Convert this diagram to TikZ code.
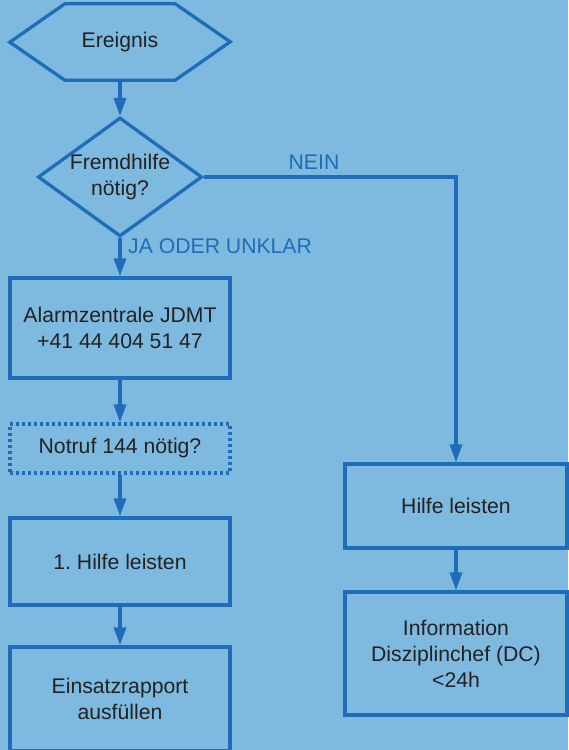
\documentclass[tikz,border=0pt]{standalone}
\usepackage{fontspec}
\setmainfont{Liberation Sans}
\usepackage{tikz}
\usetikzlibrary{calc}
\usetikzlibrary{arrows.meta}
\usetikzlibrary{shapes.geometric}
\frenchspacing
\definecolor{bgblue}{RGB}{126,186,224}
\definecolor{lineblue}{RGB}{31,108,185}
\definecolor{textgrey}{RGB}{35,33,34}
\tikzset{>={Triangle[length=18pt,width=12pt]}}
\tikzset{
  flow/.style={draw=lineblue, line width=3.3pt, text=textgrey, align=center, inner sep=0pt},
  flowbox/.style={flow, rectangle, minimum width=220pt},
  flowarrow/.style={->, draw=lineblue, line width=3.3pt},
  flowlabel/.style={text=lineblue, inner sep=0pt}
}

\begin{document}
\begin{tikzpicture}[x=1pt, y=-1pt, font=\fontsize{21.2}{26}\selectfont]
            % background
            \fill[bgblue] (0, 0) rectangle (568, 750);
            \useasboundingbox (0, 0) rectangle (568, 750);

            %Ereignis
            \node[inner sep=0pt, minimum width=110pt, minimum height=76pt, text=textgrey] (ev) at (120, 42) {Ereignis};
            \draw[lineblue, line width=3.3pt, line join=miter] (ev.north west) -- (ev.north east) -- ++(55, 38) -- (ev.south east) -- (ev.south west) -- ++(-55, -38) -- cycle;

            %Fremdhilfe
            \node[flow, diamond, aspect=1.4, minimum width=164pt, minimum height=119pt] (help) at (120, 177) {Fremdhilfe\\n\"otig?};

            %left column
            \node[flowbox, minimum height=100pt] (alarm) at (120, 328) {Alarmzentrale JDMT\\+41 44 404 51 47};
            \node[flowbox, minimum height=49pt, dash pattern=on 2.6pt off 3.4pt] (call) at (120, 448.5) {Notruf 144 n\"otig?};
            \node[flowbox, minimum height=87pt] (aid) at (120, 561.5) {1. Hilfe leisten};
            \node[flowbox, minimum height=104pt] (report) at (120, 699) {Einsatzrapport\\ausf\"ullen};

            %right column
            \node[flowbox, minimum width=222pt, minimum height=84pt] (hilfe) at (456, 506) {Hilfe leisten};
            \node[flowbox, minimum width=222pt, minimum height=123pt] (info) at (456, 653.5) {Information\\Disziplinchef (DC)\\<24h};

            % arrows
            \draw[flowarrow] (ev.south) -- (help.north);
            \draw[flowarrow] (help.south) -- (alarm.north);
            \draw[flowarrow] (alarm) -- (call);
            \draw[flowarrow] (call) -- (aid);
            \draw[flowarrow] (aid) -- (report);
            \draw[flowarrow] (hilfe) -- (info);
            \draw[flowarrow, line join=miter] (help.east) -| (hilfe.north);

            % labels
            \node[flowlabel, anchor=west] (yes) at (128, 246) {JA ODER UNKLAR};
            \node[flowlabel] (no) at (314, 162) {NEIN};
        \end{tikzpicture}
\end{document}
